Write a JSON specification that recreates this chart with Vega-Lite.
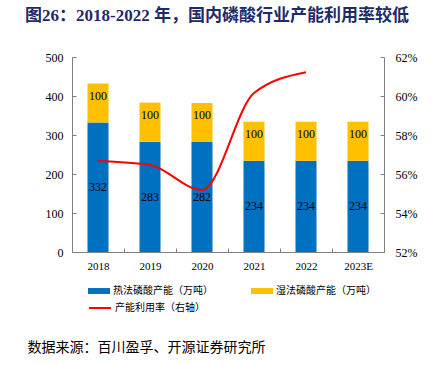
{
  "$schema": "https://vega.github.io/schema/vega-lite/v6.json",
  "width": 312,
  "height": 195,
  "autosize": {"type": "none"},
  "padding": {"left": 72, "top": 57, "right": 59, "bottom": 114},
  "background": "white",
  "config": {"view": {"stroke": null}, "font": "Liberation Serif"},
  "title": {
    "text": "图26：2018-2022 年，国内磷酸行业产能利用率较低",
    "anchor": "start",
    "frame": "group",
    "dx": -47,
    "offset": 26,
    "font": "Liberation Serif, Noto Sans CJK SC",
    "fontSize": 17,
    "fontWeight": "bold",
    "color": "#1F2A68"
  },
  "datasets": {
    "bars": [
      {"year": "2018", "type": "热法磷酸产能（万吨）", "value": 332},
      {"year": "2019", "type": "热法磷酸产能（万吨）", "value": 283},
      {"year": "2020", "type": "热法磷酸产能（万吨）", "value": 282},
      {"year": "2021", "type": "热法磷酸产能（万吨）", "value": 234},
      {"year": "2022", "type": "热法磷酸产能（万吨）", "value": 234},
      {"year": "2023E", "type": "热法磷酸产能（万吨）", "value": 234},
      {"year": "2018", "type": "湿法磷酸产能（万吨）", "value": 100},
      {"year": "2019", "type": "湿法磷酸产能（万吨）", "value": 100},
      {"year": "2020", "type": "湿法磷酸产能（万吨）", "value": 100},
      {"year": "2021", "type": "湿法磷酸产能（万吨）", "value": 100},
      {"year": "2022", "type": "湿法磷酸产能（万吨）", "value": 100},
      {"year": "2023E", "type": "湿法磷酸产能（万吨）", "value": 100}
    ],
    "rate": [
      {"year": "2018", "rate": 0.5667},
      {"year": "2019", "rate": 0.5646},
      {"year": "2020", "rate": 0.5518},
      {"year": "2021", "rate": 0.6015},
      {"year": "2022", "rate": 0.6122}
    ]
  },
  "encoding": {
    "x": {
      "field": "year",
      "type": "ordinal",
      "scale": {"domain": ["2018", "2019", "2020", "2021", "2022", "2023E"], "paddingInner": 0, "paddingOuter": 0},
      "axis": {
        "title": "数据来源：百川盈孚、开源证券研究所",
        "titleFont": "Noto Sans CJK SC",
        "titleFontSize": 14,
        "titleFontWeight": "normal",
        "titleColor": "#000000",
        "titleAnchor": "start",
        "titleAlign": "left",
        "titleX": -45,
        "titleY": 99,
        "titleBaseline": "alphabetic",
        "labelAngle": 0,
        "labelFont": "Liberation Serif",
        "labelFontSize": 11,
        "labelColor": "#000000",
        "labelPadding": 12,
        "labelOverlap": false,
        "tickBand": "extent",
        "tickSize": -4,
        "domainColor": "#7f7f7f",
        "tickColor": "#7f7f7f"
      }
    }
  },
  "layer": [
    {
      "encoding": {
        "y": {
          "field": "value",
          "type": "quantitative",
          "stack": "zero",
          "scale": {"domain": [0, 500], "nice": false},
          "axis": {
            "values": [0, 100, 200, 300, 400, 500],
            "tickCount": 6,
            "grid": false,
            "title": null,
            "labelFont": "Liberation Serif",
            "labelFontSize": 12,
            "labelColor": "#000000",
            "labelOverlap": false,
            "tickSize": -4,
            "labelPadding": 13,
            "domainColor": "#7f7f7f",
            "tickColor": "#7f7f7f"
          }
        },
        "order": {"field": "type", "sort": "descending"}
      },
      "layer": [
        {
          "data": {"name": "bars"},
          "mark": {"type": "bar", "width": 21},
          "encoding": {
            "color": {
              "field": "type",
              "type": "nominal",
              "scale": {"domain": ["热法磷酸产能（万吨）", "湿法磷酸产能（万吨）"], "range": ["#0070C0", "#FFC000"]},
              "legend": {
                "orient": "none",
                "legendX": 16,
                "legendY": 223,
                "direction": "horizontal",
                "columns": 2,
                "title": null,
                "symbolType": "M-1,-0.27H1V0.27H-1Z",
                "symbolSize": 484,
                "symbolStrokeWidth": 0,
                "labelFont": "Noto Sans CJK SC",
                "labelFontSize": 10,
                "labelColor": "#000000",
                "labelOffset": 3,
                "columnPadding": 38
              }
            }
          }
        },
        {
          "data": {"name": "bars"},
          "mark": {"type": "text", "font": "Liberation Serif", "fontSize": 12, "dy": 12, "baseline": "middle", "color": "#000000"},
          "encoding": {
            "detail": {"field": "type"},
            "text": {
              "condition": {"test": "datum.type === '湿法磷酸产能（万吨）'", "field": "value", "type": "quantitative"},
              "value": ""
            }
          }
        }
      ]
    },
    {
      "data": {"name": "bars"},
      "transform": [{"filter": "datum.type === '热法磷酸产能（万吨）'"}],
      "mark": {"type": "text", "font": "Liberation Serif", "fontSize": 12, "baseline": "middle", "color": "#000000"},
      "encoding": {
        "y": {"field": "value", "type": "quantitative", "scale": {"domain": [0, 1000], "nice": false}, "axis": null},
        "text": {"field": "value", "type": "quantitative"}
      }
    },
    {
      "data": {"name": "rate"},
      "mark": {"type": "line", "interpolate": "monotone", "strokeWidth": 2},
      "encoding": {
        "y": {
          "field": "rate",
          "type": "quantitative",
          "scale": {"domain": [0.52, 0.62], "nice": false, "zero": false},
          "axis": {
            "orient": "right",
            "values": [0.52, 0.54, 0.56, 0.58, 0.6, 0.62],
            "format": ".0%",
            "grid": false,
            "title": null,
            "labelFont": "Liberation Serif",
            "labelFontSize": 12,
            "labelColor": "#000000",
            "labelOverlap": false,
            "tickSize": -4,
            "labelPadding": 15,
            "domainColor": "#7f7f7f",
            "tickColor": "#7f7f7f"
          }
        },
        "stroke": {
          "datum": "产能利用率（右轴）",
          "type": "nominal",
          "scale": {"range": ["#FF0000"]},
          "legend": {
            "orient": "none",
            "legendX": 16,
            "legendY": 239,
            "title": null,
            "symbolType": "stroke",
            "symbolSize": 484,
            "symbolStrokeWidth": 2,
            "labelFont": "Noto Sans CJK SC",
            "labelFontSize": 10,
            "labelColor": "#000000",
            "labelOffset": 3
          }
        }
      }
    }
  ],
  "resolve": {"scale": {"y": "independent"}}
}
